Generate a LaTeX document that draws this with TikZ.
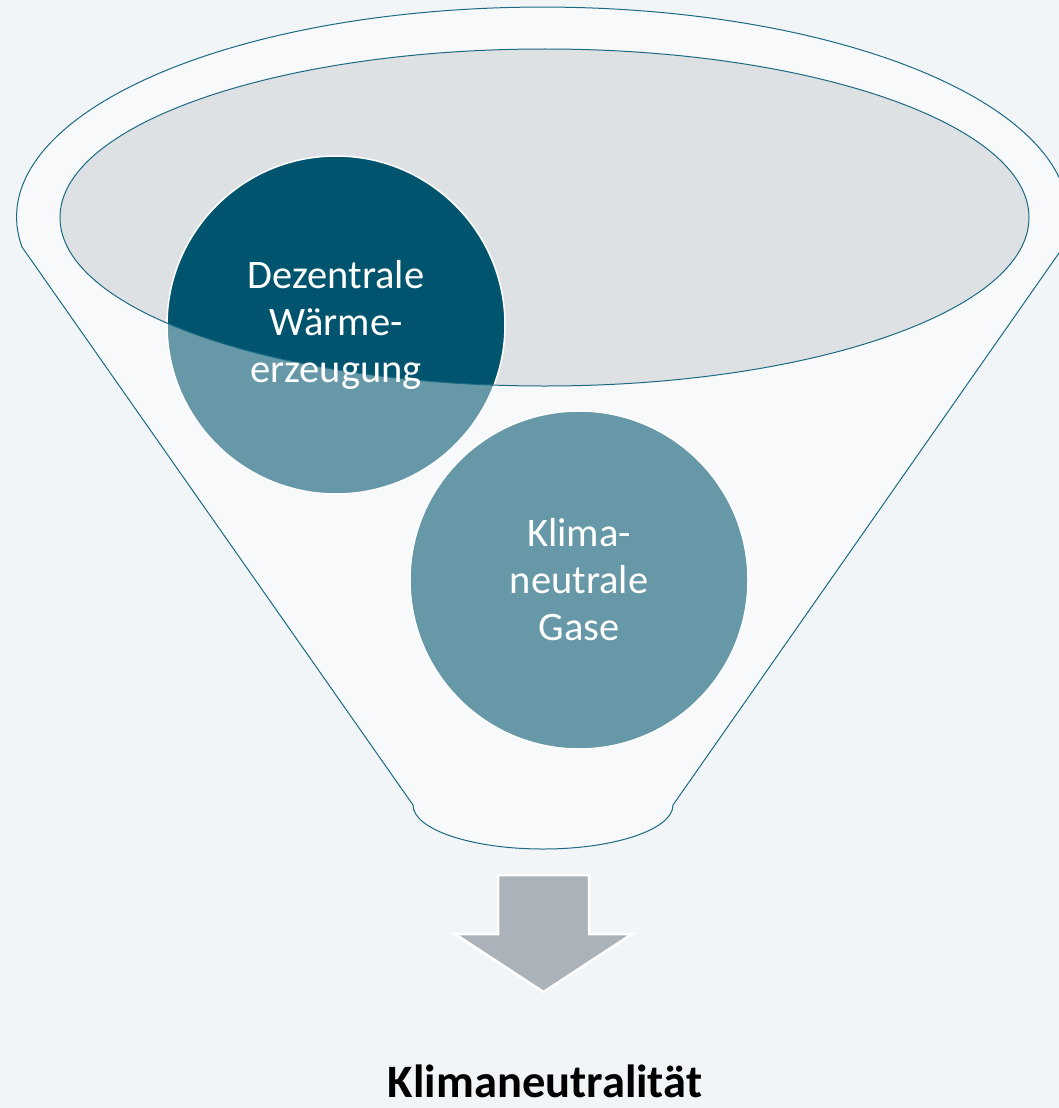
\documentclass[tikz,border=0pt]{standalone}
\usepackage{fontspec}
\setmainfont{Carlito}
\definecolor{pagebg}{HTML}{F2F5F8}
\definecolor{opening}{HTML}{DEE1E4}
\definecolor{darkteal}{HTML}{00546E}
\definecolor{outline}{HTML}{1B6A84}
\definecolor{arrowgray}{HTML}{ABB2B9}
\tikzset{
  circ/.style={circle, fill=darkteal, draw=white, line width=1.5pt, minimum size=338pt, inner sep=0pt},
  circtext/.style={text=white, align=center, font=\fontsize{40.5}{47}\selectfont},
  funnelline/.style={draw=outline, line width=1pt},
  downarrow/.style={fill=arrowgray, draw=white, line width=2.5pt, line join=miter},
  resultlabel/.style={font=\fontsize{46.5}{54}\selectfont\bfseries, text=black, anchor=base}
}
\begin{document}
\begin{tikzpicture}[x=1pt,y=-1pt]
\fill[pagebg] (0,0) rectangle (1059,1108);
\useasboundingbox (0,0) rectangle (1059,1108);
% opening of the funnel
\fill[opening] (544.5,217.5) ellipse[x radius=484.5, y radius=168.5];
% circles
\node[circ] (c1) at (336,325) {};
\node[circ] (c2) at (579,580) {};
% funnel body (translucent white over everything but the opening)
\fill[white, opacity=0.4, even odd rule]
  (413,805) -- (22,247) arc[start angle=171.8, end angle=368.2, x radius=526, y radius=210]
  -- (673,805) arc[start angle=0, end angle=180, x radius=130, y radius=44] -- cycle
  (544.5,217.5) ellipse[x radius=484.5, y radius=168.5];
% outlines
\draw[funnelline]
  (413,805) -- (22,247) arc[start angle=171.8, end angle=368.2, x radius=526, y radius=210]
  -- (673,805) arc[start angle=0, end angle=180, x radius=130, y radius=44] -- cycle;
\draw[funnelline] (544.5,217.5) ellipse[x radius=484.5, y radius=168.5];
% texts on top
\node[circtext] (t1) at (c1.center) {Dezentrale\\Wärme-\\erzeugung};
\node[circtext] (t2) at (c2.center) {Klima-\\neutrale\\Gase};
% down arrow
\filldraw[downarrow] (498,875) -- (589,875) -- (589,934) -- (632,934) -- (543.5,992) -- (455,934) -- (498,934) -- cycle;
\node[resultlabel] (result) at (545,1097) {Klimaneutralität};
\end{tikzpicture}
\end{document}
